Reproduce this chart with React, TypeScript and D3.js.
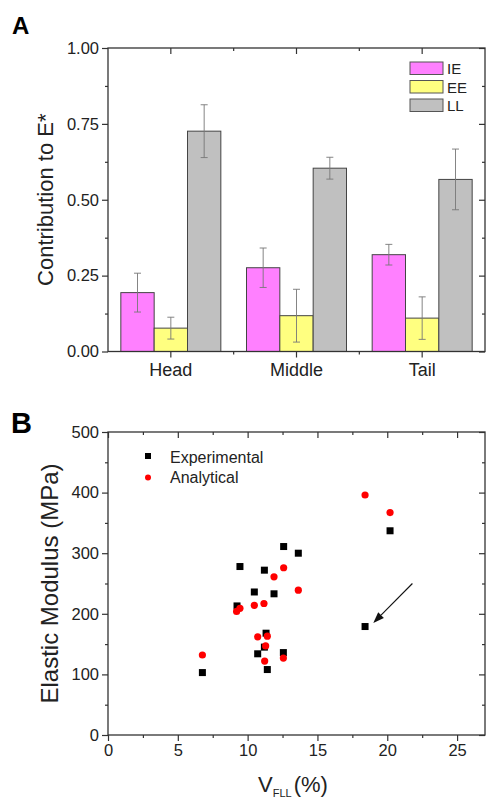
import React, { useEffect, useRef } from "react";
import * as d3 from "d3";

// panel A
const categories = ["Head", "Middle", "Tail"];
const seriesNames = ["IE", "EE", "LL"];
const ieMean = [0.194, 0.276, 0.319];
const ieErr = [0.064, 0.065, 0.034];
const eeMean = [0.077, 0.118, 0.11];
const eeErr = [0.036, 0.087, 0.07];
const llMean = [0.726, 0.604, 0.567];
const llErr = [0.087, 0.036, 0.1];
const yTicksA = [0, 0.25, 0.5, 0.75, 1.0];

// panel B
const expX = [6.76, 9.24, 9.45, 10.48, 11.2, 10.72, 11.89, 11.32, 11.2, 11.41, 12.56, 12.58, 13.63, 18.41, 20.2];
const expY = [103, 213, 278, 236, 272, 134, 233, 168, 145, 108, 136, 311, 300, 179, 337];
const anaX = [6.76, 9.21, 9.45, 10.48, 11.17, 11.89, 12.58, 13.63, 10.72, 11.41, 11.29, 11.22, 12.56, 18.41, 20.2];
const anaY = [132, 204, 209, 214, 217, 261, 276, 239, 162, 163, 147, 122, 127, 396, 367];
const xTicksB = [0, 5, 10, 15, 20, 25];
const yTicksB = [0, 100, 200, 300, 400, 500];
const arrowFrom = [21.8, 250];
const arrowTo = [19.0, 185];

const W = 486;
const H = 799;
const FONT = "Liberation Sans, Arial, sans-serif";
const AXIS = "#333";
const colors = ["#FF80FF", "#FFFF80", "#C0C0C0"];

const styleAxis = (g: any) => {
  g.select(".domain").remove();
  g.selectAll("line").attr("stroke", AXIS).attr("stroke-width", 1.2);
  g.selectAll("text").attr("font-family", FONT).attr("fill", "#222");
};

const drawChart = (el: SVGSVGElement) => {
  const svg = d3.select(el);
  svg.selectAll("*").remove();

  // ---------- A ----------
  const left = 108, right = 485, topA = 48, botA = 351.5;
  const y = d3.scaleLinear().domain([0, 1]).range([botA, topA]);
  const x0 = d3.scaleBand().domain(categories).range([left, right]);
  const x1 = d3.scaleBand().domain(seriesNames).range([0, x0.bandwidth()]).paddingOuter(0.385);

  const means = [ieMean, eeMean, llMean];
  const errs = [ieErr, eeErr, llErr];

  svg.append("text").attr("x", 12).attr("y", 34).text("A")
    .attr("font-family", FONT).attr("font-weight", "bold").attr("font-size", 24);

  const minorA = d3.range(0.125, 1, 0.25);
  svg.append("g").attr("transform", `translate(${left},0)`)
    .call(d3.axisLeft(y).tickValues(yTicksA).tickFormat(d3.format(".2f")).tickSize(6).tickPadding(3))
    .call(styleAxis).call(g => g.selectAll("text").attr("font-size", 16.5));
  svg.append("g").attr("transform", `translate(${left},0)`)
    .call(d3.axisLeft(y).tickValues(minorA).tickFormat(() => "").tickSize(3)).call(styleAxis);
  svg.append("g").attr("transform", `translate(${right},0)`)
    .call(d3.axisRight(y).tickValues(yTicksA).tickFormat(() => "").tickSize(-6)).call(styleAxis);
  svg.append("g").attr("transform", `translate(${right},0)`)
    .call(d3.axisRight(y).tickValues(minorA).tickFormat(() => "").tickSize(-3)).call(styleAxis);

  const bounds = categories.slice(1).map(c => x0(c) as number);
  svg.append("g").attr("transform", `translate(0,${botA})`)
    .call(d3.axisBottom(x0).tickSize(6).tickPadding(6))
    .call(styleAxis).call(g => g.selectAll("text").attr("font-size", 18));
  svg.append("g").attr("transform", `translate(0,${topA})`)
    .call(d3.axisTop(x0).tickFormat(() => "").tickSize(-6)).call(styleAxis);
  svg.append("g").selectAll("line").data(bounds).join("line")
    .attr("x1", d => d).attr("x2", d => d).attr("y1", botA).attr("y2", botA + 3)
    .attr("stroke", AXIS).attr("stroke-width", 1.2);
  svg.append("g").selectAll("line").data(bounds).join("line")
    .attr("x1", d => d).attr("x2", d => d).attr("y1", topA).attr("y2", topA + 3)
    .attr("stroke", AXIS).attr("stroke-width", 1.2);

  const barData = categories.flatMap((c, i) =>
    seriesNames.map((s, j) => ({ c, s, j, v: means[j][i], e: errs[j][i] })));

  const bars = svg.append("g");
  bars.selectAll("rect").data(barData).join("rect")
    .attr("x", d => (x0(d.c) as number) + (x1(d.s) as number))
    .attr("width", x1.bandwidth())
    .attr("y", d => y(d.v))
    .attr("height", d => y(0) - y(d.v))
    .attr("fill", d => colors[d.j])
    .attr("stroke", "#444").attr("stroke-width", 1);

  const eb = svg.append("g").attr("stroke", "#777").attr("stroke-width", 0.9);
  barData.forEach(d => {
    const cx = (x0(d.c) as number) + (x1(d.s) as number) + x1.bandwidth() / 2;
    eb.append("line").attr("x1", cx).attr("x2", cx).attr("y1", y(d.v + d.e)).attr("y2", y(d.v - d.e));
    [d.v + d.e, d.v - d.e].forEach(t =>
      eb.append("line").attr("x1", cx - 3.5).attr("x2", cx + 3.5).attr("y1", y(t)).attr("y2", y(t)));
  });

  svg.append("rect").attr("x", left).attr("y", topA).attr("width", right - left).attr("height", botA - topA)
    .attr("fill", "none").attr("stroke", AXIS).attr("stroke-width", 1.3);

  svg.append("text").attr("transform", `translate(53,${(topA + botA) / 2}) rotate(-90)`)
    .attr("text-anchor", "middle").attr("font-family", FONT).attr("font-size", 22).attr("fill", "#222")
    .text("Contribution to E*");

  const legA = svg.append("g");
  seriesNames.forEach((s, i) => {
    legA.append("rect").attr("x", 410).attr("y", 62 + i * 18.5).attr("width", 33).attr("height", 12.5)
      .attr("fill", colors[i]).attr("stroke", "#555").attr("stroke-width", 1);
    legA.append("text").attr("x", 447).attr("y", 74 + i * 18.5).text(s)
      .attr("font-family", FONT).attr("font-size", 15).attr("fill", "#222");
  });

  // ---------- B ----------
  const topB = 432, botB = 735;
  const xb = d3.scaleLinear().domain([0, 27]).range([left, right]);
  const yb = d3.scaleLinear().domain([0, 500]).range([botB, topB]);

  svg.append("text").attr("x", 11).attr("y", 433).text("B")
    .attr("font-family", FONT).attr("font-weight", "bold").attr("font-size", 29);

  const minorXB = d3.range(2.5, 27, 5);
  const minorYB = d3.range(50, 500, 100);
  svg.append("g").attr("transform", `translate(${left},0)`)
    .call(d3.axisLeft(yb).tickValues(yTicksB).tickFormat(d3.format("d")).tickSize(6).tickPadding(3))
    .call(styleAxis).call(g => g.selectAll("text").attr("font-size", 16.5));
  svg.append("g").attr("transform", `translate(${left},0)`)
    .call(d3.axisLeft(yb).tickValues(minorYB).tickFormat(() => "").tickSize(3)).call(styleAxis);
  svg.append("g").attr("transform", `translate(${right},0)`)
    .call(d3.axisRight(yb).tickValues(yTicksB).tickFormat(() => "").tickSize(-6)).call(styleAxis);
  svg.append("g").attr("transform", `translate(${right},0)`)
    .call(d3.axisRight(yb).tickValues(minorYB).tickFormat(() => "").tickSize(-3)).call(styleAxis);
  svg.append("g").attr("transform", `translate(0,${botB})`)
    .call(d3.axisBottom(xb).tickValues(xTicksB).tickFormat(d3.format("d")).tickSize(6).tickPadding(3))
    .call(styleAxis).call(g => g.selectAll("text").attr("font-size", 16.5));
  svg.append("g").attr("transform", `translate(0,${botB})`)
    .call(d3.axisBottom(xb).tickValues(minorXB).tickFormat(() => "").tickSize(3)).call(styleAxis);
  svg.append("g").attr("transform", `translate(0,${topB})`)
    .call(d3.axisTop(xb).tickValues(xTicksB).tickFormat(() => "").tickSize(-6)).call(styleAxis);
  svg.append("g").attr("transform", `translate(0,${topB})`)
    .call(d3.axisTop(xb).tickValues(minorXB).tickFormat(() => "").tickSize(-3)).call(styleAxis);

  svg.append("rect").attr("x", left).attr("y", topB).attr("width", right - left).attr("height", botB - topB)
    .attr("fill", "none").attr("stroke", AXIS).attr("stroke-width", 1.3);

  svg.append("g").selectAll("rect").data(expX).join("rect")
    .attr("x", (d, i) => xb(d) - 3.5).attr("y", (d, i) => yb(expY[i]) - 3.5)
    .attr("width", 7).attr("height", 7).attr("fill", "#000");
  svg.append("g").selectAll("circle").data(anaX).join("circle")
    .attr("cx", d => xb(d)).attr("cy", (d, i) => yb(anaY[i])).attr("r", 3.6).attr("fill", "#f00");

  // arrow
  const ax1 = xb(arrowFrom[0]), ay1 = yb(arrowFrom[1]);
  const ax2 = xb(arrowTo[0]), ay2 = yb(arrowTo[1]);
  const ang = Math.atan2(ay2 - ay1, ax2 - ax1);
  const hl = 11, hw = 4;
  const bx = ax2 - hl * Math.cos(ang), by = ay2 - hl * Math.sin(ang);
  svg.append("line").attr("x1", ax1).attr("y1", ay1).attr("x2", bx).attr("y2", by)
    .attr("stroke", "#111").attr("stroke-width", 1.1);
  svg.append("path")
    .attr("d", `M${ax2},${ay2}L${bx + hw * Math.sin(ang)},${by - hw * Math.cos(ang)}L${bx - hw * Math.sin(ang)},${by + hw * Math.cos(ang)}Z`)
    .attr("fill", "#111");

  // legend B
  svg.append("rect").attr("x", 145).attr("y", 453).attr("width", 6).attr("height", 6).attr("fill", "#000");
  svg.append("circle").attr("cx", 148).attr("cy", 477.5).attr("r", 3).attr("fill", "#f00");
  svg.append("text").attr("x", 170).attr("y", 463).text("Experimental")
    .attr("font-family", FONT).attr("font-size", 16).attr("fill", "#222");
  svg.append("text").attr("x", 170).attr("y", 483).text("Analytical")
    .attr("font-family", FONT).attr("font-size", 16).attr("fill", "#222");

  svg.append("text").attr("transform", `translate(58,${(topB + botB) / 2}) rotate(-90)`)
    .attr("text-anchor", "middle").attr("font-family", FONT).attr("font-size", 24).attr("fill", "#222")
    .text("Elastic Modulus (MPa)");

  const xl = svg.append("text").attr("x", 293).attr("y", 792).attr("text-anchor", "middle")
    .attr("font-family", FONT).attr("font-size", 22).attr("fill", "#222");
  xl.append("tspan").text("V");
  xl.append("tspan").attr("dy", 5).attr("font-size", 11).text("FLL");
  xl.append("tspan").attr("dy", -5).attr("dx", 2).text("(%)");
};

const App = () => {
  const ref = useRef<SVGSVGElement>(null);
  useEffect(() => {
    if (ref.current) drawChart(ref.current);
  }, []);
  return (
    <svg ref={ref} width={W} height={H}
      style={{ position: "absolute", left: 0, top: 0, background: "#fff" }} />
  );
};

export default App;
